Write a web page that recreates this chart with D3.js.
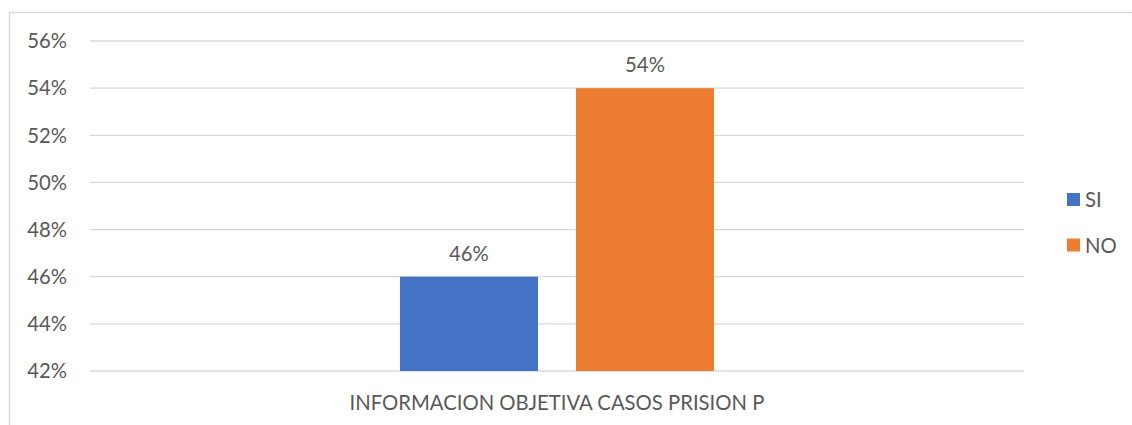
<!DOCTYPE html>
<html lang="es">
<head>
    <meta charset="UTF-8">
    <title>Informacion objetiva casos prision P</title>
    <script src="https://d3js.org/d3.v7.min.js"></script>
    <style>
        body { margin: 0; background: #fff; }
        text { font-family: Lato, "Open Sans", sans-serif; fill: #595959; }
    </style>
</head>
<body>
    <div id="chart"></div>

    <script>
        // Data
        const categories = ["INFORMACION OBJETIVA CASOS PRISION P"];
        const seriesNames = ["SI", "NO"];
        const seriesValues = [46, 54];
        const yTicks = [42, 44, 46, 48, 50, 52, 54, 56];
        const colors = ["#4472c4", "#ed7d31"];

        const width = 1132;
        const height = 425;
        const margin = { top: 41, right: 108, bottom: 53, left: 90 };

        const svg = d3.select("#chart")
            .append("svg")
            .attr("width", width)
            .attr("height", height);

        // Chart border
        svg.append("rect")
            .attr("x", 9.5)
            .attr("y", 12.5)
            .attr("width", width - 9)
            .attr("height", height)
            .attr("fill", "none")
            .attr("stroke", "#d9d9d9")
            .attr("stroke-width", 1.3);

        const yScale = d3.scaleLinear()
            .domain([42, 56])
            .range([height - margin.bottom - 1, margin.top]);

        const x0 = d3.scaleBand()
            .domain(categories)
            .range([margin.left, width - margin.right])
            .paddingInner(0)
            .paddingOuter(0.987);

        const x1 = d3.scaleBand()
            .domain(seriesNames)
            .range([0, x0.bandwidth()])
            .paddingInner(0.216)
            .paddingOuter(0);

        // Gridlines
        svg.append("g")
            .selectAll("line")
            .data(yTicks)
            .enter()
            .append("line")
            .attr("x1", margin.left)
            .attr("x2", width - margin.right)
            .attr("y1", d => yScale(d))
            .attr("y2", d => yScale(d))
            .attr("stroke", "#d9d9d9")
            .attr("stroke-width", 1.3);

        // Y axis labels
        svg.append("g")
            .selectAll("text")
            .data(yTicks)
            .enter()
            .append("text")
            .attr("x", 67)
            .attr("y", d => yScale(d))
            .attr("dy", "0.36em")
            .attr("text-anchor", "end")
            .style("font-size", "20.3px")
            .text(d => d + "%");

        // Bars
        const bars = seriesNames.map((s, i) => ({ cat: categories[0], name: s, value: seriesValues[i], color: colors[i] }));

        svg.append("g")
            .selectAll("rect")
            .data(bars)
            .enter()
            .append("rect")
            .attr("x", d => x0(d.cat) + x1(d.name))
            .attr("y", d => yScale(d.value))
            .attr("width", x1.bandwidth())
            .attr("height", d => yScale(42) - yScale(d.value))
            .attr("fill", d => d.color);

        // Data labels
        svg.append("g")
            .selectAll("text")
            .data(bars)
            .enter()
            .append("text")
            .attr("x", d => x0(d.cat) + x1(d.name) + x1.bandwidth() / 2)
            .attr("y", d => yScale(d.value) - 16)
            .attr("text-anchor", "middle")
            .style("font-size", "20.3px")
            .text(d => d.value + "%");

        // Category label
        svg.append("text")
            .attr("x", x0(categories[0]) + x0.bandwidth() / 2)
            .attr("y", 410)
            .attr("text-anchor", "middle")
            .style("font-size", "20.3px")
            .text(categories[0]);

        // Legend
        const legend = svg.append("g")
            .selectAll("g")
            .data(seriesNames)
            .enter()
            .append("g")
            .attr("transform", (d, i) => `translate(1067,${193 + i * 45.5})`);

        legend.append("rect")
            .attr("width", 13)
            .attr("height", 13)
            .attr("fill", (d, i) => colors[i]);

        legend.append("text")
            .attr("x", 18)
            .attr("y", 7)
            .attr("dy", "0.36em")
            .style("font-size", "20.3px")
            .text(d => d);
    </script>
</body>
</html>
